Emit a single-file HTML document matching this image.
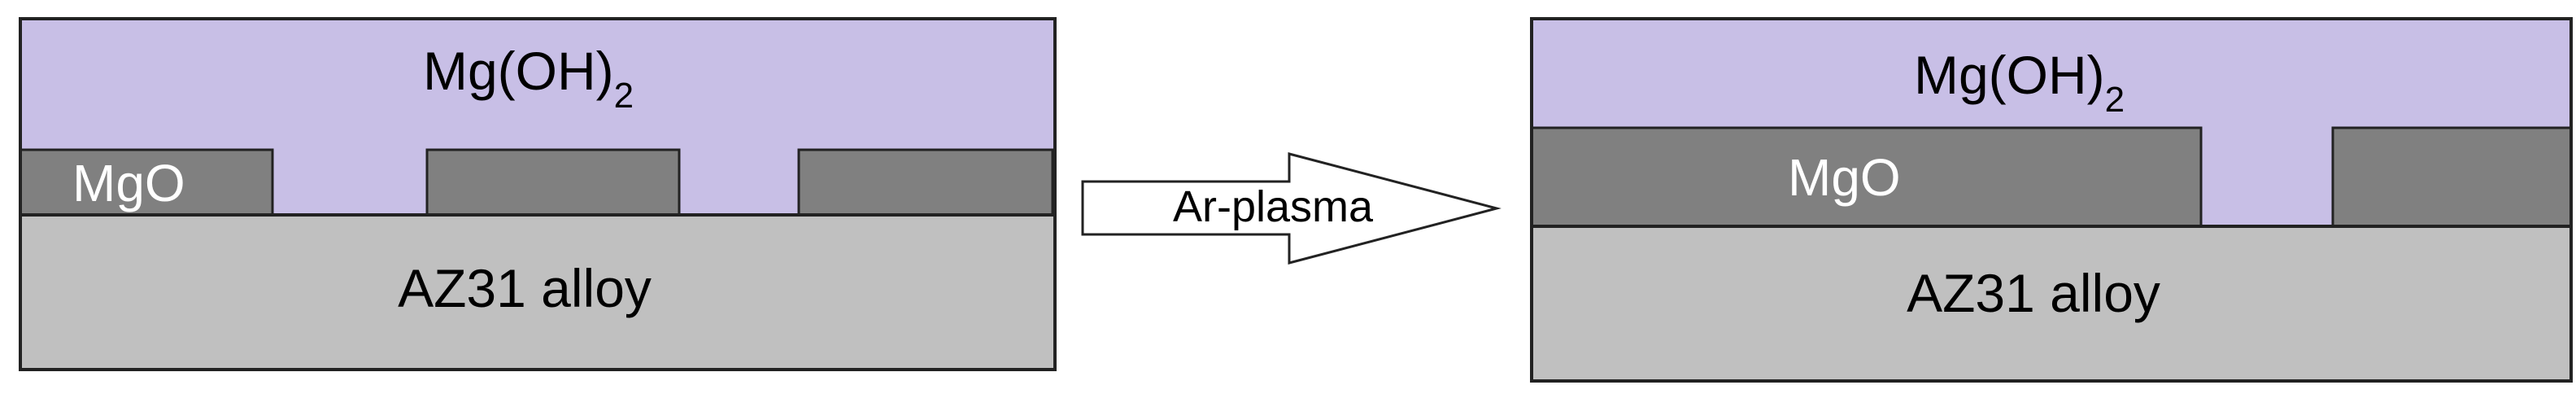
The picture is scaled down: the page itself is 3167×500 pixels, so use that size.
<!DOCTYPE html>
<html><head><meta charset="utf-8"><style>
html,body{margin:0;padding:0;background:#fff;}
svg{display:block;}
text{font-family:"Liberation Sans",Arial,sans-serif;}
</style></head><body>
<svg width="3167" height="500" viewBox="0 0 3167 500" xmlns="http://www.w3.org/2000/svg">
<!-- Left diagram -->
<rect x="25" y="23" width="1272" height="431" fill="#c8bfe6"/>
<rect x="25" y="264" width="1272" height="190" fill="#c0c0c0"/>
<rect x="25" y="184" width="310" height="80" fill="#808080" stroke="#222" stroke-width="3"/>
<rect x="525" y="184" width="310" height="80" fill="#808080" stroke="#222" stroke-width="3"/>
<rect x="982" y="184" width="312" height="80" fill="#808080" stroke="#222" stroke-width="3"/>
<line x1="25" y1="264" x2="1297" y2="264" stroke="#222" stroke-width="4"/>
<rect x="25" y="23" width="1272" height="431" fill="none" stroke="#222" stroke-width="4"/>
<text x="520" y="110" font-size="66">Mg(OH)<tspan font-size="44" dy="22">2</tspan></text>
<text x="89" y="247" font-size="64" fill="#fff">MgO</text>
<text x="645" y="377" font-size="66" text-anchor="middle">AZ31 alloy</text>

<!-- Arrow -->
<polygon points="1331,223 1585,223 1585,189 1840,256 1585,323 1585,288 1331,288" fill="#fff" stroke="#222" stroke-width="3"/>
<text x="1565" y="272" font-size="54" text-anchor="middle">Ar-plasma</text>

<!-- Right diagram -->
<rect x="1883" y="23" width="1278" height="445" fill="#c8bfe6"/>
<rect x="1883" y="278" width="1278" height="190" fill="#c0c0c0"/>
<rect x="1883" y="157" width="823" height="121" fill="#808080" stroke="#222" stroke-width="3"/>
<rect x="2868" y="157" width="293" height="121" fill="#808080" stroke="#222" stroke-width="3"/>
<line x1="1883" y1="278" x2="3161" y2="278" stroke="#222" stroke-width="4"/>
<rect x="1883" y="23" width="1278" height="445" fill="none" stroke="#222" stroke-width="4"/>
<text x="2353" y="115" font-size="66">Mg(OH)<tspan font-size="44" dy="22">2</tspan></text>
<text x="2198" y="240" font-size="64" fill="#fff">MgO</text>
<text x="2500" y="383" font-size="66" text-anchor="middle">AZ31 alloy</text>
</svg>
</body></html>
